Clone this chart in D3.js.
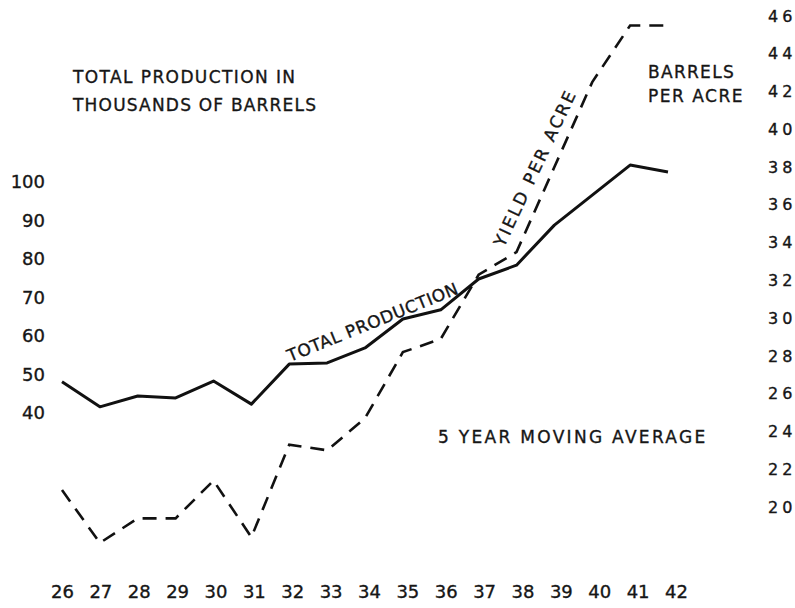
<!DOCTYPE html>
<html>
<head>
<meta charset="utf-8">
<script src="https://cdn.jsdelivr.net/npm/d3@7"></script>
<style>
  body { margin: 0; background: #fff; }
  text { font-family: "DejaVu Sans", sans-serif; fill: #161616; stroke: #161616; stroke-width: 0.35px; }
</style>
</head>
<body>
<div id="chart"></div>
<script>
// Data
const years = [26, 27, 28, 29, 30, 31, 32, 33, 34, 35, 36, 37, 38, 39, 40, 41, 42]
const production = [48.1, 41.6, 44.4, 43.9, 48.3, 42.3, 52.7, 53.0, 56.9, 64.4, 66.8, 74.8, 78.4, 88.8, 96.6, 104.4, 102.6]
const yieldPerAcre = [20.9, 18.1, 19.4, 19.4, 21.4, 18.4, 23.3, 23.0, 24.7, 28.2, 28.9, 32.3, 33.5, 38.0, 42.5, 45.5, 45.5]
const leftTicks = [40, 50, 60, 70, 80, 90, 100]
const rightTicks = [20, 22, 24, 26, 28, 30, 32, 34, 36, 38, 40, 42, 44, 46]

const width = 795, height = 608

const svg = d3.select('#chart')
    .append('svg')
    .attr('width', width)
    .attr('height', height)

// Scales
let x = d3.scaleLinear().domain([26, 42]).range([62, 668])
let xTick = x.copy().range([62, 676])
let yLeft = d3.scaleLinear().domain([40, 100]).range([413, 182])
let yRight = d3.scaleLinear().domain([20, 46]).range([507, 16])

// Axes (labels only, no lines)
let xAxis = svg.append('g')
    .attr('transform', 'translate(0,592)')
    .call(d3.axisBottom(xTick).tickValues(years).tickSize(0).tickPadding(0).tickFormat(d => d))
xAxis.selectAll('text').attr('dy', '0.35em').style('font-size', '18px')

let leftAxis = svg.append('g')
    .attr('transform', 'translate(45,0)')
    .call(d3.axisLeft(yLeft).tickValues(leftTicks).tickSize(0).tickPadding(0))
leftAxis.selectAll('text').style('font-size', '18px')

let rightAxis = svg.append('g')
    .attr('transform', 'translate(768,0)')
    .call(d3.axisRight(yRight).tickValues(rightTicks).tickSize(0).tickPadding(0))
rightAxis.selectAll('text').style('font-size', '16px').style('letter-spacing', '4px')

svg.selectAll('.domain').remove()
svg.selectAll('.tick text').attr('fill', '#161616').style('font-family', '"DejaVu Sans", sans-serif')

// Lines
let prodLine = d3.line()
    .x((d, i) => x(years[i]))
    .y(d => yLeft(d))

let yieldLine = d3.line()
    .x((d, i) => x(years[i]))
    .y(d => yRight(d))

svg.append('path')
    .datum(production)
    .attr('fill', 'none')
    .attr('stroke', '#111')
    .attr('stroke-width', 3)
    .attr('stroke-linejoin', 'round')
    .attr('d', prodLine)

svg.append('path')
    .datum(yieldPerAcre)
    .attr('fill', 'none')
    .attr('stroke', '#111')
    .attr('stroke-width', 2.6)
    .attr('stroke-dasharray', '14,9')
    .attr('d', yieldLine)

// Text labels
function label(txt, tx, ty, size, spacing, rot) {
    svg.append('text')
        .attr('transform', 'translate(' + tx + ',' + ty + ')' + (rot ? ' rotate(' + rot + ')' : ''))
        .style('font-size', size + 'px')
        .style('letter-spacing', spacing + 'px')
        .text(txt)
}

label('TOTAL PRODUCTION IN', 73, 83, 17, 1.4)
label('THOUSANDS OF BARRELS', 73, 111, 17, 1.2)
label('BARRELS', 648, 78, 17, 1.3)
label('PER ACRE', 648, 102, 17, 1.5)
label('5  YEAR MOVING AVERAGE', 438, 443, 17, 2.3)
label('TOTAL PRODUCTION', 290, 362, 17, 0.6, -22)
label('YIELD PER ACRE', 504, 248, 17, 2.4, -64.8)
</script>
</body>
</html>
